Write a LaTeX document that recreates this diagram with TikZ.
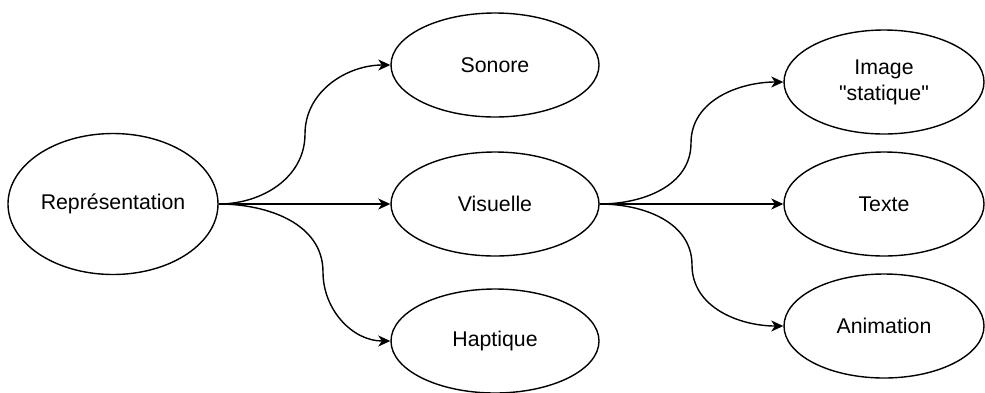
\documentclass[tikz,border=0pt]{standalone}
\usepackage{fontspec}
\setmainfont{Liberation Sans}[Ligatures=TeXOff]
\usetikzlibrary{arrows.meta,shapes.geometric}

\begin{document}
\begin{tikzpicture}[x=1pt,y=-1pt,
    every node/.style={font=\fontsize{21.3}{26}\selectfont},
    Bulle/.style={draw, ellipse, line width=1.4pt, inner sep=0pt,
      minimum width=208pt, minimum height=104pt, align=center},
    Fleche/.style={-{Stealth[length=12pt,width=11pt,inset=3.5pt]}, line width=1.4pt}]
        \useasboundingbox (0,0) rectangle (985,392);
        % ellipses
        \node[Bulle, minimum width=210pt, minimum height=141pt] (rep) at (113,204) {Représentation};
        \node[Bulle] (son) at (495,65) {Sonore};
        \node[Bulle] (vis) at (495,204) {Visuelle};
        \node[Bulle] (hap) at (495,341) {Haptique};
        \node[Bulle, minimum width=200pt] (ima) at (884,82) {Image\\"statique"};
        \node[Bulle, minimum width=200pt] (tex) at (884,204) {Texte};
        \node[Bulle, minimum width=200pt] (ani) at (884,326) {Animation};
        % bends
        \coordinate (c1) at (305,134);
        \coordinate (c2) at (323,272);
        \coordinate (c3) at (691,143);
        \coordinate (c4) at (692,265);
        % arrows from Représentation
        \draw[Fleche] (rep.east) to[out=0,in=-90] (c1) to[out=90,in=180] (son.west);
        \draw[Fleche] (rep.east) -- (vis.west);
        \draw[Fleche] (rep.east) to[out=0,in=90] (c2) to[out=-90,in=180] (hap.west);
        % arrows from Visuelle
        \draw[Fleche] (vis.east) to[out=0,in=-90] (c3) to[out=90,in=180] (ima.west);
        \draw[Fleche] (vis.east) -- (tex.west);
        \draw[Fleche] (vis.east) to[out=0,in=90] (c4) to[out=-90,in=180] (ani.west);
\end{tikzpicture}
\end{document}
